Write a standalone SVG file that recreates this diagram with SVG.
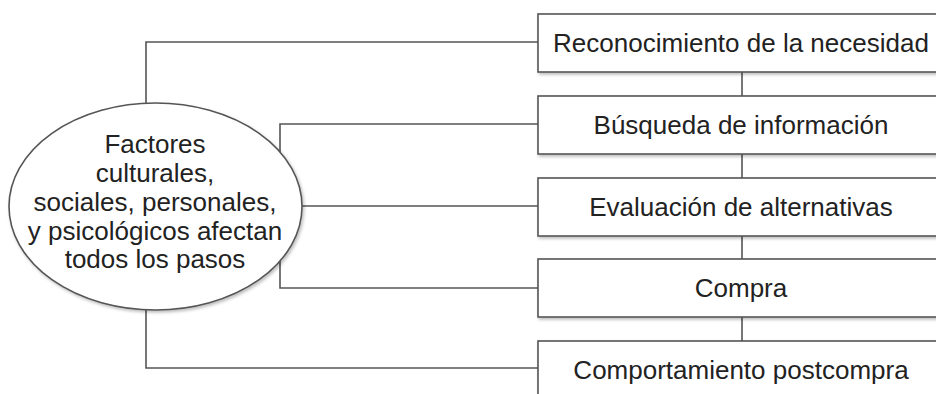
<svg xmlns="http://www.w3.org/2000/svg" width="936" height="394" viewBox="0 0 936 394">
<defs>
<filter id="sh" x="-5%" y="-5%" width="115%" height="130%">
<feDropShadow dx="1.5" dy="2" stdDeviation="1.5" flood-color="#000" flood-opacity="0.25"/>
</filter>
<style>
.box{fill:#fff;stroke:#555;stroke-width:1.6;filter:url(#sh)}
.con{fill:none;stroke:#555;stroke-width:1.6}
text{font-family:"Liberation Sans",Arial,sans-serif;font-size:26px;fill:#222;text-anchor:middle}
</style>
</defs>
<rect width="936" height="394" fill="#fff"/>
<g id="connectors">
<path class="con" d="M146,103 V42 H538"/>
<path class="con" d="M280,152 V124 H538"/>
<path class="con" d="M302,206 H538"/>
<path class="con" d="M280,261 V288 H538"/>
<path class="con" d="M146,310 V368 H538"/>
<path class="con" d="M742,72 V96 M742,154 V178 M742,236 V259 M742,317 V341"/>
</g>
<g id="factores">
<ellipse class="box" cx="155.5" cy="206.5" rx="146.5" ry="103.5"/>
<text x="155" y="153">Factores</text>
<text x="155" y="182">culturales,</text>
<text x="155" y="211">sociales, personales,</text>
<text x="155" y="240">y psicológicos afectan</text>
<text x="155" y="268">todos los pasos</text>
</g>
<g id="reconocimiento">
<rect class="box" x="538" y="14" width="410" height="58"/>
<text x="741" y="52">Reconocimiento de la necesidad</text>
</g>
<g id="busqueda">
<rect class="box" x="538" y="96" width="410" height="58"/>
<text x="741" y="134">Búsqueda de información</text>
</g>
<g id="evaluacion">
<rect class="box" x="538" y="178" width="410" height="58"/>
<text x="741" y="216">Evaluación de alternativas</text>
</g>
<g id="compra">
<rect class="box" x="538" y="259" width="410" height="58"/>
<text x="741" y="297">Compra</text>
</g>
<g id="postcompra">
<rect class="box" x="538" y="341" width="410" height="58"/>
<text x="741" y="379">Comportamiento postcompra</text>
</g>
</svg>
